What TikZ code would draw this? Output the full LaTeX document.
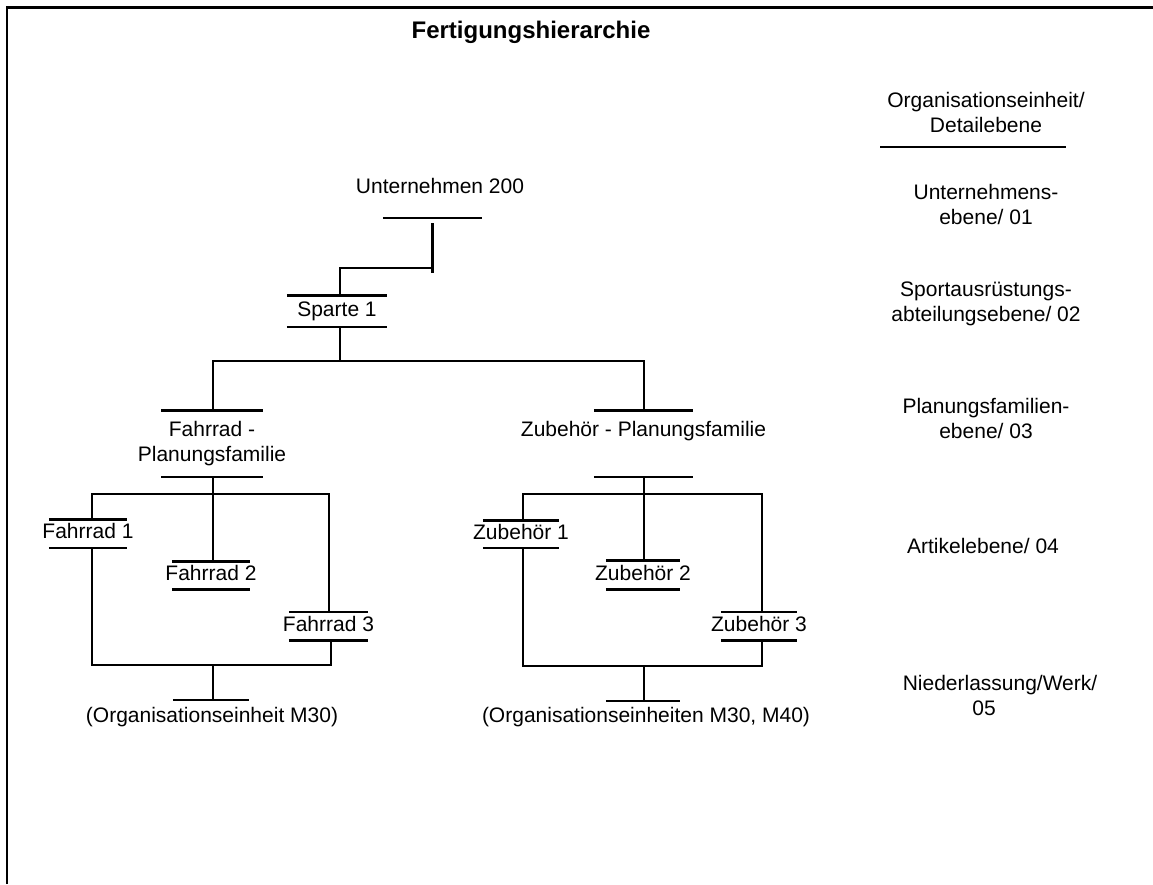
\documentclass[tikz,border=0pt]{standalone}
\usepackage{fontspec}
\setmainfont{Liberation Sans}
% multi-line text whose first baseline is the box baseline
\newcommand\mlines[1]{\begin{tabular}[t]{@{}c@{}}#1\end{tabular}}
% centred text of zero width, so a node keeps the width of its bars
\newcommand\clines[1]{\makebox[0pt]{\begin{tabular}{@{}c@{}}#1\end{tabular}}}
% rules above and below a hierarchy element
\newcommand\drawbars[1]{\draw[wire] (#1.north west) -- (#1.north east) (#1.south west) -- (#1.south east);}

\begin{document}
\begin{tikzpicture}[x=1pt,y=1pt,
  every node/.style={font=\fontsize{21}{25}\selectfont, inner sep=0pt},
  wire/.style={line width=2.6pt},
  elem/.style 2 args={minimum width=#1, minimum height=#2},
  barnode/.style={minimum width=#1, minimum height=0pt},
  title/.style={font=\fontsize{24}{28}\selectfont\bfseries},
  level/.style={anchor=base}
]
\useasboundingbox (0,0) rectangle (1153,884);

% frame
\draw[line width=2.4pt] (7,0) -- (7,876.5) -- (1153,876.5);

% title
\node[title] (title) at (531,852) {Fertigungshierarchie};

% hierarchy elements
\node[anchor=base] (un) at (440,690) {Unternehmen 200};
\node[barnode=99pt] (unbar) at (432.5,666) {};
\node[elem={100pt}{31pt}] (sp) at (337,572.5) {\clines{Sparte 1}};
\node[elem={101pt}{66pt}] (fp) at (212,440) {\raisebox{2pt}{\clines{Fahrrad -\\Planungsfamilie}}};
\node[elem={99pt}{66pt}] (zp) at (643.5,440) {\raisebox{3pt}{\clines{Zubehör - Planungsfamilie\\\mbox{}}}};

\node[elem={78pt}{28pt}] (f1) at (88,350) {\clines{Fahrrad 1}};
\node[elem={78pt}{27pt}] (f2) at (211,308.5) {\clines{Fahrrad 2}};
\node[elem={79pt}{28pt}] (f3) at (328.5,258) {\clines{Fahrrad 3}};
\node[barnode=76pt] (o1bar) at (211,184) {};
\node[anchor=base] (o1) at (212,162) {(Organisationseinheit M30)};

\node[elem={76pt}{27pt}] (z1) at (521,349.5) {\clines{Zubehör 1}};
\node[elem={74pt}{28pt}] (z2) at (643,309) {\clines{Zubehör 2}};
\node[elem={76pt}{28pt}] (z3) at (759,258) {\clines{Zubehör 3}};
\node[barnode=74pt] (o2bar) at (643,183) {};
\node[anchor=base] (o2) at (646,162) {(Organisationseinheiten M30, M40)};

% bars
\draw[wire] (unbar.west) -- (unbar.east);
\draw[wire] (o1bar.west) -- (o1bar.east);
\draw[wire] (o2bar.west) -- (o2bar.east);
\drawbars{sp}
\drawbars{fp}
\drawbars{zp}
\drawbars{f1}
\drawbars{f2}
\drawbars{f3}
\drawbars{z1}
\drawbars{z2}
\drawbars{z3}

% junction points
\coordinate (ujoin) at (432.5,616);
\coordinate (spsplit) at (340,523);
\coordinate (ftop) at (213,390);
\coordinate (fbot) at (213,219);
\coordinate (ztop) at (644,390);
\coordinate (zbot) at (644,218);

% connectors
\draw[wire] ([yshift=-5pt]unbar.south) -- ([yshift=-5pt]ujoin);
\draw[wire] (ujoin) -| ([xshift=3pt]sp.north);
\draw[wire] ([xshift=3pt]sp.south) -- (spsplit);
\draw[wire] (fp.north -| ftop) |- (spsplit) -| (zp.north -| ztop);

\draw[wire] (fp.south -| ftop) -- (f2.north -| ftop);
\draw[wire] ([xshift=4pt]f1.north) |- (ftop) -| ([xshift=0.5pt]f3.north);
\draw[wire] ([xshift=4pt]f1.south) |- (fbot) -| ([xshift=2.5pt]f3.south);
\draw[wire] (fbot) -- (fbot |- o1bar.north);

\draw[wire] (zp.south -| ztop) -- (z2.north -| ztop);
\draw[wire] ([xshift=2pt]z1.north) |- (ztop) -| ([xshift=3pt]z3.north);
\draw[wire] ([xshift=2pt]z1.south) |- (zbot) -| ([xshift=3pt]z3.south);
\draw[wire] (zbot) -- (zbot |- o2bar.north);

% level column
\node[level] (lvhead) at (986,776) {\mlines{Organisationseinheit/\\Detailebene}};
\draw[wire] (880,737) -- (1066,737);
\node[level] (lv1) at (986,684) {\mlines{Unternehmens-\\ebene/ 01}};
\node[level] (lv2) at (986,587) {\mlines{Sportausrüstungs-\\abteilungsebene/ 02}};
\node[level] (lv3) at (986,470) {\mlines{Planungsfamilien-\\ebene/ 03}};
\node[level] (lv4) at (983,330) {Artikelebene/ 04};
\node[level] (lv5) at (1000,194) {Niederlassung/Werk/};
\node[level] (lv5b) at (984,169) {05};
\end{tikzpicture}
\end{document}
